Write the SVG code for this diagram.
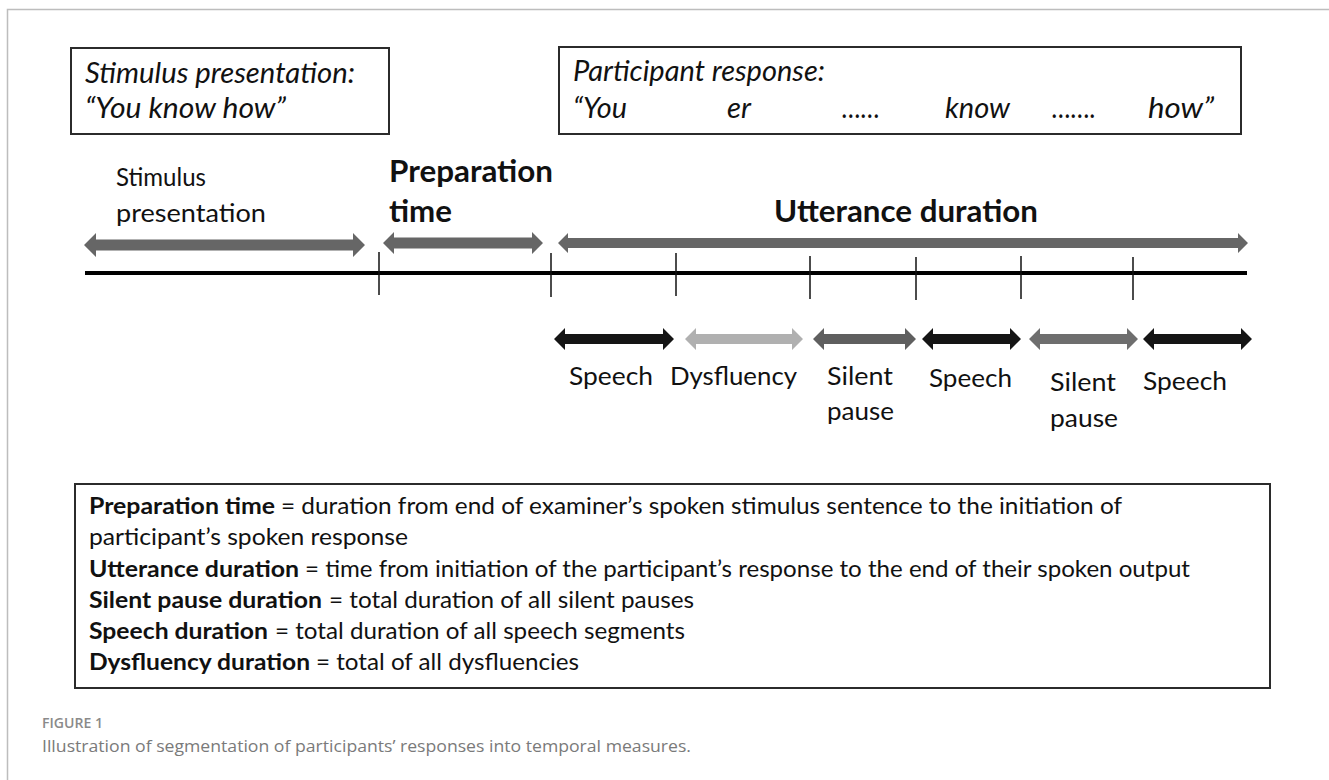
<svg xmlns="http://www.w3.org/2000/svg" width="1329" height="780" viewBox="0 0 1329 780">
<style>
.box{fill:#fff;stroke:#2b2b2b;stroke-width:2}
.it{font-family:Lato,"Liberation Sans",sans-serif;font-style:italic;font-size:28px;fill:#111}
.lab{font-family:Lato,"Liberation Sans",sans-serif;font-size:25px;fill:#111}
.bl{font-family:Lato,"Liberation Sans",sans-serif;font-weight:bold;font-size:30px;fill:#111}
.lg{font-family:Lato,"Liberation Sans",sans-serif;font-size:23.5px;fill:#111}
.lgb{font-weight:bold}
.tick{stroke:#111;stroke-width:1.5}
.cap1{font-family:"Open Sans","Liberation Sans",sans-serif;font-weight:600;font-size:15px;fill:#8a8a8a}
.cap2{font-family:"Open Sans","Liberation Sans",sans-serif;font-size:17px;fill:#7a7a7a}
</style>
<rect width="1329" height="780" fill="#fff"/>
<path d="M7.5 780 V9.5 H1329" fill="none" stroke="#bdbdbd" stroke-width="1.5"/>

<g id="stimulus-box">
<rect class="box" x="71" y="48" width="318" height="86"/>
<text class="it" x="85" y="83" textLength="270" lengthAdjust="spacingAndGlyphs">Stimulus presentation:</text>
<text class="it" x="85" y="118" textLength="201" lengthAdjust="spacingAndGlyphs">“You know how”</text>
</g>

<g id="response-box">
<rect class="box" x="559" y="47" width="682" height="87"/>
<text class="it" x="573" y="81" textLength="252" lengthAdjust="spacingAndGlyphs">Participant response:</text>
<text class="it" y="118"><tspan x="573" textLength="54" lengthAdjust="spacingAndGlyphs">“You</tspan><tspan x="727" textLength="24" lengthAdjust="spacingAndGlyphs">er</tspan><tspan x="842" textLength="38" lengthAdjust="spacingAndGlyphs">……</tspan><tspan x="945" textLength="65" lengthAdjust="spacingAndGlyphs">know</tspan><tspan x="1052" textLength="44" lengthAdjust="spacingAndGlyphs">…….</tspan><tspan x="1148" textLength="66" lengthAdjust="spacingAndGlyphs">how”</tspan></text>
</g>

<g id="label-stimulus">
<text class="lab" x="116" y="186" textLength="90" lengthAdjust="spacingAndGlyphs">Stimulus</text>
<text class="lab" x="116" y="222" textLength="150" lengthAdjust="spacingAndGlyphs">presentation</text>
</g>
<g id="label-preparation">
<text class="bl" x="389" y="182" textLength="164" lengthAdjust="spacingAndGlyphs">Preparation</text>
<text class="bl" x="389" y="222" textLength="63" lengthAdjust="spacingAndGlyphs">time</text>
</g>
<g id="label-utterance">
<text class="bl" x="774" y="222" textLength="264" lengthAdjust="spacingAndGlyphs">Utterance duration</text>
</g>

<g id="connectors">
<polygon fill="#666" points="84,245 96,233 96,239.5 353,239.5 353,233 365,245 353,257 353,250.5 96,250.5 96,257"/>
<polygon fill="#666" points="383,243 394,232 394,237.5 532,237.5 532,232 543,243 532,254 532,248.5 394,248.5 394,254"/>
<polygon fill="#666" points="558,243 568,233 568,238 1238,238 1238,233 1248,243 1238,253 1238,248 568,248 568,253"/>
<line x1="85" y1="273" x2="1247" y2="273" stroke="#000" stroke-width="4"/>
<line class="tick" x1="379" y1="252" x2="379" y2="295"/>
<line class="tick" x1="551" y1="253" x2="551" y2="297"/>
<line class="tick" x1="676" y1="253" x2="676" y2="296"/>
<line class="tick" x1="810" y1="256" x2="810" y2="299"/>
<line class="tick" x1="916" y1="257" x2="916" y2="300"/>
<line class="tick" x1="1021" y1="256" x2="1021" y2="299"/>
<line class="tick" x1="1133" y1="257" x2="1133" y2="300"/>
<polygon fill="#151515" points="554,339 565,328 565,334 663,334 663,328 674,339 663,350 663,344 565,344 565,350"/>
<polygon fill="#b0b0b0" points="685,339 696,328 696,334 792,334 792,328 803,339 792,350 792,344 696,344 696,350"/>
<polygon fill="#5f5f5f" points="813,339 824,328 824,334 905,334 905,328 916,339 905,350 905,344 824,344 824,350"/>
<polygon fill="#151515" points="922,339 933,328 933,334 1010,334 1010,328 1021,339 1010,350 1010,344 933,344 933,350"/>
<polygon fill="#6e6e6e" points="1029,339 1040,328 1040,334 1127,334 1127,328 1138,339 1127,350 1127,344 1040,344 1040,350"/>
<polygon fill="#151515" points="1143,339 1154,328 1154,334 1241,334 1241,328 1252,339 1241,350 1241,344 1154,344 1154,350"/>
</g>

<g id="segment-labels">
<text class="lab" x="569" y="385" textLength="84" lengthAdjust="spacingAndGlyphs">Speech</text>
<text class="lab" x="670" y="385" textLength="127" lengthAdjust="spacingAndGlyphs">Dysfluency</text>
<text class="lab" x="827" y="385" textLength="66" lengthAdjust="spacingAndGlyphs">Silent</text>
<text class="lab" x="827" y="420" textLength="67" lengthAdjust="spacingAndGlyphs">pause</text>
<text class="lab" x="929" y="387" textLength="83" lengthAdjust="spacingAndGlyphs">Speech</text>
<text class="lab" x="1050" y="391" textLength="66" lengthAdjust="spacingAndGlyphs">Silent</text>
<text class="lab" x="1050" y="427" textLength="68" lengthAdjust="spacingAndGlyphs">pause</text>
<text class="lab" x="1143" y="390" textLength="84" lengthAdjust="spacingAndGlyphs">Speech</text>
</g>

<g id="definitions-box">
<rect class="box" x="75" y="484" width="1195" height="204"/>
<text class="lg" y="514"><tspan class="lgb" x="89" textLength="186" lengthAdjust="spacingAndGlyphs">Preparation time</tspan><tspan x="281" textLength="841" lengthAdjust="spacingAndGlyphs">= duration from end of examiner’s spoken stimulus sentence to the initiation  of</tspan></text>
<text class="lg" x="89" y="545" textLength="319" lengthAdjust="spacingAndGlyphs">participant’s spoken response</text>
<text class="lg" y="577"><tspan class="lgb" x="89" textLength="210" lengthAdjust="spacingAndGlyphs">Utterance duration</tspan><tspan x="305" textLength="885" lengthAdjust="spacingAndGlyphs">= time from initiation of the participant’s response to the end of their spoken output</tspan></text>
<text class="lg" y="608"><tspan class="lgb" x="89" textLength="233" lengthAdjust="spacingAndGlyphs">Silent pause duration</tspan><tspan x="329" textLength="365" lengthAdjust="spacingAndGlyphs">= total duration of all silent pauses</tspan></text>
<text class="lg" y="639"><tspan class="lgb" x="89" textLength="179" lengthAdjust="spacingAndGlyphs">Speech duration</tspan><tspan x="275" textLength="410" lengthAdjust="spacingAndGlyphs">= total duration of all speech segments</tspan></text>
<text class="lg" y="670"><tspan class="lgb" x="89" textLength="221" lengthAdjust="spacingAndGlyphs">Dysfluency duration</tspan><tspan x="316" textLength="263" lengthAdjust="spacingAndGlyphs">= total of all dysfluencies</tspan></text>
</g>

<g id="caption">
<text class="cap1" x="42" y="728" textLength="61" lengthAdjust="spacingAndGlyphs">FIGURE 1</text>
<text class="cap2" x="42" y="752" textLength="649" lengthAdjust="spacingAndGlyphs">Illustration of segmentation of participants’ responses into temporal measures.</text>
</g>
</svg>
